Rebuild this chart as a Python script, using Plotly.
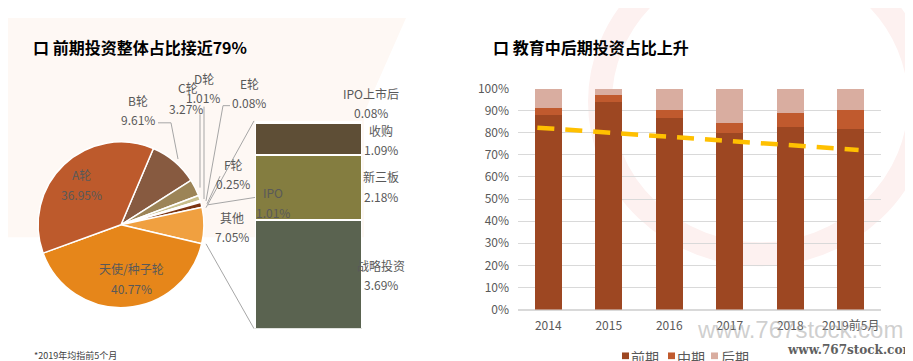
import plotly.graph_objects as go

W, H = 913, 361

# ---------------- data ----------------
pie_labels = ["B轮", "C轮", "D轮", "E轮", "F轮", "IPO", "其他", "天使/种子轮", "A轮"]
pie_values = [9.61, 3.27, 1.01, 0.08, 0.25, 1.01, 7.05, 40.77, 36.95]
pie_colors = ["#875A40", "#9C8457", "#C8BF8C", "#D9D2A8", "#B8AD82", "#7B3513",
              "#F0A040", "#E6861A", "#BD5A2C"]

other_labels = ["战略投资", "新三板", "收购", "IPO上市后"]
other_values = [3.69, 2.18, 1.09, 0.08]
other_colors = ["#5A6350", "#847D40", "#5E4E36", "#6E5A48"]

years = ["2014", "2015", "2016", "2017", "2018", "2019前5月"]
early = [87.8, 93.8, 86.5, 80.0, 82.6, 81.7]
mid = [3.6, 3.3, 3.9, 4.2, 6.5, 8.8]
late = [8.6, 2.9, 9.6, 15.8, 10.9, 9.5]
series_names = ["前期", "中期", "后期"]
# linear trend line (category index units, spanning the plotted extent)
trend_x = [-0.18, 5.13]
trend_y = [82.3, 72.2]

FONT = "Noto Sans CJK SC"
GRAY = "#595959"


def px(x):
    return x / W


def py(y):
    return 1 - y / H


fig = go.Figure()

# ---------------- pie ----------------
cx, cy, r = 113, 217, 87
fig.add_trace(go.Pie(
    labels=pie_labels, values=pie_values, sort=False, direction="clockwise",
    rotation=23, marker=dict(colors=pie_colors, line=dict(color="white", width=1.5)),
    textinfo="none", showlegend=False, hoverinfo="label+percent",
    domain=dict(x=[px(cx - r), px(cx + r)], y=[py(cy + r), py(cy - r)]),
))

# ---------------- bar of "其他" ----------------
for lab, val, col in zip(other_labels, other_values, other_colors):
    fig.add_trace(go.Bar(
        x=["其他"], y=[val], name=lab, width=1,
        marker=dict(color=col, line=dict(color="white", width=2)),
        xaxis="x2", yaxis="y2", showlegend=False,
    ))

# ---------------- stacked bars ----------------
bar_cols = ["#9D4722", "#C05A2E", "#D9ADA0"]
for name, vals, col in zip(series_names, [early, mid, late], bar_cols):
    fig.add_trace(go.Bar(
        x=years, y=vals, name=name, width=0.45, marker=dict(color=col, line=dict(width=0)),
        xaxis="x3", yaxis="y3", showlegend=False,
    ))
fig.add_trace(go.Scatter(
    x=trend_x, y=trend_y, mode="lines", xaxis="x4", yaxis="y3", showlegend=False,
    line=dict(color="#FFC000", width=4.5, dash="17px,11px"), hoverinfo="skip",
))

# ---------------- layout ----------------
fig.update_layout(
    width=W, height=H, margin=dict(l=0, r=0, t=0, b=0),
    paper_bgcolor="white", plot_bgcolor="rgba(0,0,0,0)",
    barmode="stack", font=dict(family=FONT, color=GRAY, size=12),
    showlegend=False,
    xaxis2=dict(domain=[px(247), px(354)], visible=False, range=[-0.5, 0.5]),
    yaxis2=dict(domain=[py(326), py(108)], visible=False, range=[0, sum(other_values)], anchor="x2"),
    xaxis3=dict(domain=[px(510), px(873)], anchor="y3", showgrid=False, showline=False,
                tickfont=dict(size=12, color=GRAY), ticks="", type="category",
                ticklabelstandoff=7, range=[-0.5, 5.5]),
    xaxis4=dict(domain=[px(510), px(873)], anchor="y3", overlaying="x3", visible=False,
                range=[-0.5, 5.5]),
    yaxis3=dict(domain=[py(306), py(74)], anchor="x3", range=[0, 100], dtick=10,
                ticksuffix="%", showgrid=True, gridcolor="#D9D9D9", gridwidth=1,
                zeroline=True, zerolinecolor="#D9D9D9", tickfont=dict(size=12, color=GRAY),
                ticklabelstandoff=8),
)

ann = []


def text(x, y, s, size=12, color=GRAY, bold=False, xanchor="center", family=FONT):
    if bold:
        s = "<b>" + s + "</b>"
    ann.append(dict(x=px(x), y=py(y), xref="paper", yref="paper", text=s, showarrow=False,
                    xanchor=xanchor, yanchor="middle", borderpad=0,
                    font=dict(size=size, color=color, family=family)))


# titles
text(24, 30, "口 前期投资整体占比接近79%", size=16, color="black", bold=True, xanchor="left")
text(484, 30, "口 教育中后期投资占比上升", size=16, color="black", bold=True, xanchor="left")
text(25, 354, "*2019年均指前5个月", size=9, color="#404040", xanchor="left")

# pie labels
pie_text = [
    (73, 164, "A轮"), (73, 185, "36.95%"),
    (123, 263, "天使/种子轮"), (123, 284, "40.77%"),
    (130, 87, "B轮"), (130, 107, "9.61%"),
    (180, 73, "C轮"), (178, 95, "3.27%"),
    (196, 63, "D轮"), (195, 83, "1.01%"),
    (241, 69, "E轮"), (241, 89, "0.08%"),
    (225, 154, "F轮"), (225, 174, "0.25%"),
    (265, 183, "IPO"), (265, 204, "1.01%"),
    (224, 209, "其他"), (224, 229, "7.05%"),
    (363, 79, "IPO上市后"), (363, 99, "0.08%"),
    (373, 118, "收购"), (373, 138, "1.09%"),
    (373, 166, "新三板"), (373, 187, "2.18%"),
    (373, 260, "战略投资"), (373, 280, "3.69%"),
]
for x, y, s in pie_text:
    text(x, y, s)

# manual legend (text part)
legend_x = [622, 668, 712]
for x, s in zip(legend_x, series_names):
    text(x, 356, s, size=14, color=GRAY, xanchor="left")

# watermarks
text(688, 327, "www.767stock.com", size=24, color="rgba(160,160,160,0.5)",
     xanchor="left", family="Liberation Sans")
text(778, 348, "<b>www.767stock.com</b>", size=12, color="#606060",
     xanchor="left", family="DejaVu Serif")

fig.update_layout(annotations=ann)

shapes = []
# faint background decorations
bg_poly = [(0, 0), (398, 0), (356, 100), (356, 230), (0, 230)]
path = "M " + " L ".join(f"{px(x)},{py(y)}" for x, y in bg_poly) + " Z"
shapes.append(dict(type="path", xref="paper", yref="paper", path=path,
                   fillcolor="#FEF8F4", line=dict(width=0), layer="below"))
shapes.append(dict(type="circle", xref="paper", yref="paper",
                   x0=px(752 - 160), x1=px(752 + 160), y0=py(88 + 160), y1=py(88 - 160),
                   line=dict(color="#FDF1F0", width=24), fillcolor="rgba(0,0,0,0)", layer="below"))

# leader / connector lines
lines = [
    [(150, 110), (163, 110), (170, 148)],
    [(192, 101), (192, 178)],
    [(196, 93), (196, 190)],
    [(222, 92), (215, 92), (198, 192)],
    [(212, 166), (199, 195)],
    [(255, 187), (200, 196)],
    [(198, 199), (246, 108)],
    [(198, 237), (246, 326)],
]
for pts in lines:
    for (x0, y0), (x1, y1) in zip(pts[:-1], pts[1:]):
        shapes.append(dict(type="line", xref="paper", yref="paper", x0=px(x0), y0=py(y0),
                           x1=px(x1), y1=py(y1), line=dict(color="#A6A6A6", width=1), layer="below"))
# legend swatches
for x, col in zip([614, 660, 703], bar_cols):
    shapes.append(dict(type="rect", xref="paper", yref="paper", x0=px(x), x1=px(x + 7),
                       y0=py(358), y1=py(351), fillcolor=col, line=dict(width=0)))
fig.update_layout(shapes=shapes)

fig.write_html("out.html")
